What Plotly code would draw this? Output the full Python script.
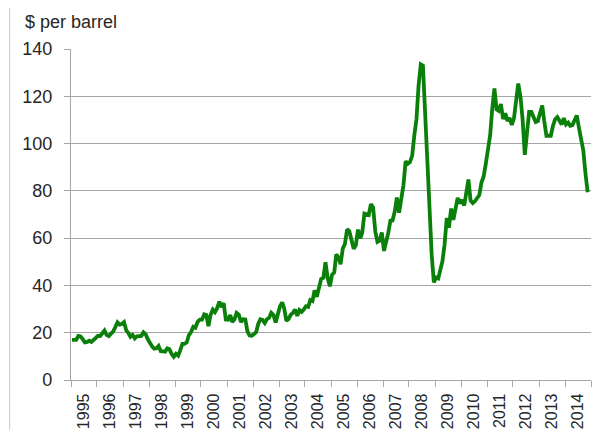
import plotly.graph_objects as go
import pandas as pd

# Monthly average oil price, $ per barrel (Jan 1995 - Nov 2014)
p1995 = [17.0, 17.0, 17.0, 18.6, 18.4, 17.3, 15.9, 16.1, 16.6, 16.1, 16.9, 17.9]
p1996 = [18.7, 18.6, 19.8, 20.9, 19.1, 18.6, 19.6, 20.5, 22.4, 24.4, 23.4, 23.7]
p1997 = [24.5, 21.0, 20.0, 18.3, 19.1, 17.6, 18.5, 18.6, 18.6, 20.2, 19.3, 17.2]
p1998 = [15.4, 14.1, 13.2, 13.4, 14.4, 12.2, 12.1, 12.0, 13.4, 13.0, 11.0, 9.8]
p1999 = [11.1, 10.3, 12.5, 15.3, 15.3, 15.9, 19.0, 20.3, 22.5, 22.1, 24.6, 25.5]
p2000 = [25.5, 27.8, 27.5, 22.8, 27.6, 29.8, 28.7, 30.4, 33.1, 30.9, 32.5, 25.6]
p2001 = [25.5, 27.5, 24.5, 25.7, 28.4, 27.7, 24.5, 25.7, 25.6, 20.5, 18.8, 18.7]
p2002 = [19.4, 20.3, 23.7, 25.7, 25.4, 24.1, 25.7, 26.3, 28.4, 27.5, 24.3, 28.3]
p2003 = [31.2, 32.8, 30.3, 25.0, 25.8, 27.6, 28.4, 29.8, 27.1, 29.6, 28.8, 29.8]
p2004 = [31.2, 30.9, 33.8, 33.4, 37.9, 35.2, 38.2, 42.7, 43.2, 49.8, 43.1, 39.6]
p2005 = [44.5, 45.5, 53.1, 51.9, 49.0, 55.6, 57.5, 63.8, 62.9, 58.5, 55.5, 57.0]
p2006 = [63.6, 59.9, 62.3, 70.4, 70.2, 69.8, 74.4, 73.0, 62.8, 58.4, 58.9, 62.4]
p2007 = [54.6, 57.8, 62.1, 67.4, 67.5, 71.3, 77.2, 70.8, 77.2, 82.4, 92.5, 91.5]
p2008 = [92.2, 94.9, 103.3, 110.2, 124.6, 133.5, 133.0, 113.0, 98.1, 72.0, 53.0, 41.3]
p2009 = [43.4, 43.0, 46.5, 50.2, 57.3, 68.6, 64.4, 72.5, 67.7, 73.2, 77.0, 74.7]
p2010 = [76.2, 73.8, 78.8, 84.8, 75.9, 74.8, 75.6, 77.1, 78.2, 83.5, 86.1, 91.4]
p2011 = [96.5, 103.7, 114.6, 123.3, 114.5, 113.9, 116.7, 110.4, 112.8, 109.6, 110.8, 107.9]
p2012 = [110.7, 119.3, 125.4, 119.8, 110.3, 95.2, 102.6, 113.4, 113.4, 111.7, 109.1, 109.5]
p2013 = [112.3, 116.1, 109.5, 103.3, 103.3, 103.3, 107.4, 110.3, 111.2, 109.5, 108.1, 110.8]
p2014 = [108.1, 108.9, 107.5, 107.8, 109.5, 111.9, 106.8, 101.6, 97.1, 87.4, 79.4]

prices = (p1995 + p1996 + p1997 + p1998 + p1999 + p2000 + p2001 + p2002 + p2003
          + p2004 + p2005 + p2006 + p2007 + p2008 + p2009 + p2010 + p2011
          + p2012 + p2013 + p2014)
months = pd.date_range("1995-01-01", periods=len(prices), freq="MS") + pd.Timedelta(days=14)

y_ticks = [0, 20, 40, 60, 80, 100, 120, 140]

FONT = "Liberation Sans, Arial, sans-serif"
GRID = "#a6a6a6"
TEXT = "#262626"

fig = go.Figure()
fig.add_trace(go.Scatter(
    x=months, y=prices, mode="lines",
    line=dict(color="#0a800a", width=3.8),
    hoverinfo="skip", showlegend=False,
))

# page body has an 8px offset; figure sized so the plot area lands at x 71-591, y 49-380
fig.update_layout(
    width=603, height=440,
    margin=dict(l=63, r=20, t=41, b=68),
    paper_bgcolor="white", plot_bgcolor="white",
    font=dict(family=FONT, color=TEXT),
    xaxis=dict(
        type="date",
        range=["1995-01-01", "2015-01-01"],
        dtick="M12", tick0="1995-01-01",
        tickformat="%Y", ticklabelmode="period",
        tickangle=-90,
        tickfont=dict(size=16, color=TEXT, family=FONT),
        showgrid=False, zeroline=False,
        showline=True, linecolor=GRID, linewidth=1.3,
        ticks="outside", ticklen=6, tickcolor=GRID, tickwidth=1.3,
        fixedrange=True,
    ),
    yaxis=dict(
        range=[0, 140],
        tickvals=y_ticks,
        tickfont=dict(size=18, color=TEXT, family=FONT),
        showgrid=True, gridcolor=GRID, gridwidth=1.3,
        zeroline=False,
        showline=True, linecolor=GRID, linewidth=1.3,
        ticks="outside", ticklen=6, tickcolor=GRID, tickwidth=1.3,
        ticklabelstandoff=8,
        fixedrange=True,
    ),
    annotations=[dict(
        text="$ per barrel", xref="paper", yref="paper",
        x=-0.0923, y=1.0816, xanchor="left", yanchor="middle",
        showarrow=False, font=dict(size=18, color=TEXT, family=FONT),
    )],
    shapes=[dict(
        type="line", xref="paper", yref="paper",
        x0=-0.118, x1=-0.118, y0=1.15, y1=-0.151,
        line=dict(color="#c8c8c8", width=1),
    )],
)

fig.write_html("out.html")
